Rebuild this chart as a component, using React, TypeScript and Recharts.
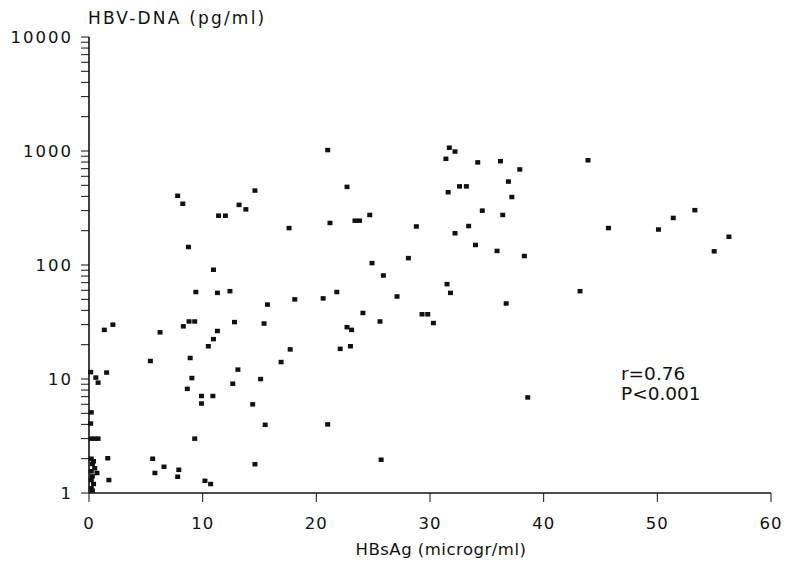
import { Scatter, ScatterChart, XAxis, YAxis } from "recharts";

// points sitting on the y axis (HBsAg ~0)
const zeroX = [0.15, 0.6, 0.8, 0.2, 0.15, 0.2, 0.5, 0.8, 0.2, 0.4, 0.3, 0.5, 0.2, 0.7, 0.3, 0.2, 0.4, 0.2, 0.3];
const zeroY = [11.5, 10.3, 9.3, 5.1, 4.07, 3, 3, 3, 2.0, 1.9, 1.8, 1.65, 1.55, 1.5, 1.4, 1.3, 1.2, 1.1, 1.05];

// HBsAg below 20
const lowX = [
  7.8, 8.25, 14.6, 11.4, 12.0, 13.2, 13.8, 17.6, 8.75, 10.95, 9.4, 11.3, 12.4, 15.7, 18.1,
  2.1, 1.35, 8.8, 9.3, 8.3, 12.8, 15.4, 6.25, 11.3, 10.95, 10.5, 17.7, 16.9, 5.4, 8.9, 13.1,
  1.55, 9.05, 12.65, 15.1, 8.65, 9.9, 10.9, 9.9, 14.4, 9.3, 15.5, 1.65, 1.75, 5.6, 5.8, 6.6,
  7.9, 7.8, 10.2, 10.7, 14.6,
];
const lowY = [
  405, 345, 450, 271, 271, 337, 308, 211, 144, 91, 58, 57, 59, 45, 50,
  30, 27, 32, 32, 29, 31.6, 30.7, 25.7, 26.4, 22.4, 19.4, 18.2, 14.1, 14.4, 15.3, 12.1,
  11.4, 10.2, 9.1, 10, 8.2, 7.1, 7.1, 6.1, 6.0, 3.0, 3.97, 2.02, 1.3, 2.0, 1.5, 1.7,
  1.6, 1.39, 1.28, 1.2, 1.79,
];

// HBsAg 20 to 40
const midX = [
  21.0, 31.7, 32.2, 31.4, 34.2, 36.2, 37.9, 36.9, 37.2, 22.7, 32.6, 33.2, 31.6, 34.6, 36.4,
  33.4, 32.2, 34.0, 35.9, 38.3, 28.8, 24.7, 23.4, 23.8, 21.2, 28.1, 24.9, 25.9, 21.8, 20.6,
  27.1, 31.5, 31.8, 36.7, 24.1, 29.3, 29.8, 25.6, 30.3, 22.7, 23.1, 22.1, 23.0, 21.0, 25.7,
  38.6,
];
const midY = [
  1020, 1070, 990, 855, 795, 815, 690, 540, 395, 485, 490, 490, 435, 300, 275,
  220, 190, 150, 133, 120, 218, 275, 245, 245, 234, 115, 104, 81, 58, 51,
  53, 68, 57, 46, 38, 37, 37, 32, 31, 28.5, 27, 18.4, 19.4, 4.0, 1.96,
  6.9,
];

// HBsAg above 40
const highX = [43.9, 45.7, 50.1, 51.4, 53.3, 56.3, 55.0, 43.2];
const highY = [830, 211, 205, 259, 303, 177, 132, 59];

const xTicks = [0, 10, 20, 30, 40, 50, 60];
const yMajor = [1, 10, 100, 1000, 10000];
const yMinor = [2, 3, 4, 5, 6, 7, 8, 9];
const yTicks = [
  ...yMajor.slice(0, 4).flatMap((d) => [d, ...yMinor.map((m) => m * d)]),
  10000,
];
const statLines = ["r=0.76", "P<0.001"];

const xs = [...zeroX, ...lowX, ...midX, ...highX];
const ys = [...zeroY, ...lowY, ...midY, ...highY];
const points = xs.map((x, i) => ({ x, y: ys[i] }));

const font = "'DejaVu Sans', Verdana, sans-serif";
const ink = "#111";

const YTick = ({ x, y, payload }: any) =>
  yMajor.includes(payload.value) ? (
    <text
      x={x}
      y={y}
      dy="0.36em"
      textAnchor="end"
      fill={ink}
      fontSize={16.5}
      fontFamily={font}
      letterSpacing={2}
    >
      {payload.value}
    </text>
  ) : (
    <g />
  );

const Dot = ({ cx, cy }: any) => (
  <rect x={cx - 2.5} y={cy - 2.2} width={5} height={4.5} fill={ink} />
);

const App = () => {
  return (
    <div style={{ position: "relative", width: 790, height: 571, background: "#fff" }}>
      <style>{"body{margin:0}"}</style>
      <ScatterChart
        width={790}
        height={571}
        margin={{ top: 37, right: 19, bottom: 0, left: 0 }}
      >
        <XAxis
          dataKey="x"
          type="number"
          domain={[0, 60]}
          ticks={xTicks}
          interval={0}
          height={78}
          tickSize={9}
          tickMargin={15}
          axisLine={{ stroke: ink, strokeWidth: 1.6 }}
          tickLine={{ stroke: ink }}
          tick={{ fill: ink, fontSize: 16.5, fontFamily: font, letterSpacing: 1 }}
        />
        <YAxis
          dataKey="y"
          type="number"
          scale="log"
          domain={[1, 10000]}
          allowDataOverflow
          ticks={yTicks}
          interval={0}
          width={89}
          tickSize={8}
          tickMargin={8}
          axisLine={{ stroke: ink, strokeWidth: 1.6 }}
          tickLine={{ stroke: ink }}
          tick={YTick}
        />
        <Scatter data={points} shape={Dot} isAnimationActive={false} />
      </ScatterChart>
      <svg
        width={790}
        height={571}
        style={{ position: "absolute", left: 0, top: 0, pointerEvents: "none" }}
      >
        <text x={88} y={24} fill={ink} fontSize={17} fontFamily={font} letterSpacing={2.2}>
          HBV-DNA (pg/ml)
        </text>
        <text
          x={441}
          y={555}
          textAnchor="middle"
          fill={ink}
          fontSize={16.5}
          fontFamily={font}
          letterSpacing={0.5}
        >
          HBsAg (microgr/ml)
        </text>
        {statLines.map((s, i) => (
          <text key={s} x={621} y={380 + i * 20} fill={ink} fontSize={18.5} fontFamily={font}>
            {s}
          </text>
        ))}
      </svg>
    </div>
  );
};

export default App;
